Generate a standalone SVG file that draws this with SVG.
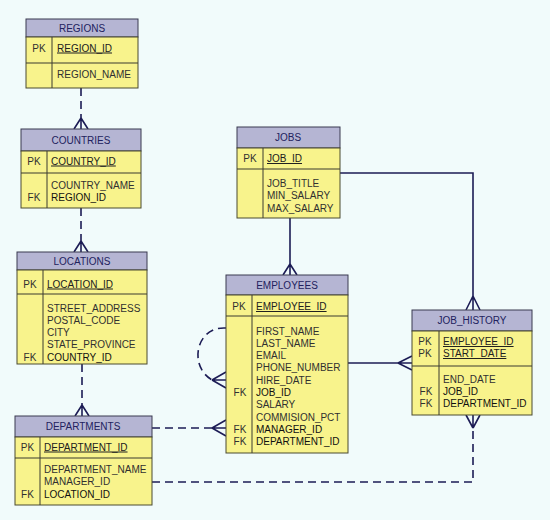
<svg xmlns="http://www.w3.org/2000/svg" width="550" height="520" viewBox="0 0 550 520">
<style>
.bg{fill:#f1fbfb}
.hd{fill:#b5b5d3;stroke:#3a3a50;stroke-width:1}
.bd{fill:#f8f38c;stroke:#4a4a30;stroke-width:1}
.sep{stroke:#3a3a30;stroke-width:1;fill:none}
text{font-family:"Liberation Sans",Arial,sans-serif;font-size:10px;fill:#303030}
.ht{fill:#22225e;text-anchor:middle}
.k{text-anchor:middle}
.pk{text-decoration:underline;fill:#202020}
.fk{fill:#101010}
.ln{stroke:#1c1c55;stroke-width:1.6;fill:none}
.dl{stroke:#1c1c55;stroke-width:1.6;fill:none;stroke-dasharray:8 5}
</style>
<rect class="bg" x="0" y="0" width="550" height="520"/>
<g id="connectors">
<path class="dl" d="M81,88 V118"/>
<path class="ln" d="M81,118 L74,129 M81,118 V129 M81,118 L88,129"/>
<path class="dl" d="M81,208 V241"/>
<path class="ln" d="M81,241 L74,252 M81,241 V252 M81,241 L88,252"/>
<path class="dl" d="M82,364 V405"/>
<path class="ln" d="M82,405 L75,416 M82,405 V416 M82,405 L89,416"/>
<path class="ln" d="M290,218 V264"/>
<path class="ln" d="M290,264 L283,275 M290,264 V275 M290,264 L297,275"/>
<path class="ln" d="M340,173 H473 V296"/>
<path class="ln" d="M473,296 L466,310 M473,296 V310 M473,296 L480,310"/>
<path class="ln" d="M348,363 H398"/>
<path class="ln" d="M398,363 L412,356 M398,363 H412 M398,363 L412,370"/>
<path class="dl" d="M226,328 C196,326 188,366 212,380"/>
<path class="ln" d="M212,380 L226,372 M212,380 H226 M212,380 L226,388"/>
<path class="dl" d="M152,428 H212"/>
<path class="ln" d="M212,428 L226,420 M212,428 H226 M212,428 L226,436"/>
<path class="dl" d="M152,482 H473 V428"/>
<path class="ln" d="M473,428 L466,415 M473,428 V415 M473,428 L480,415"/>
</g>
<g id="regions">
<rect class="hd" x="26" y="19" width="112" height="18"/>
<rect class="bd" x="26" y="37" width="112" height="51"/>
<path class="sep" d="M26,63 H138 M52,37 V88"/>
<text class="ht" x="82" y="32">REGIONS</text>
<text class="k" x="39" y="51.5">PK</text>
<text class="pk" x="57" y="51.5">REGION_ID</text>
<text x="57" y="78">REGION_NAME</text>
</g>
<g id="countries">
<rect class="hd" x="21" y="129" width="120" height="22"/>
<rect class="bd" x="21" y="151" width="120" height="57"/>
<path class="sep" d="M21,173 H141 M47,151 V208"/>
<text class="ht" x="81" y="144">COUNTRIES</text>
<text class="k" x="34" y="164.5">PK</text>
<text class="pk" x="51" y="164.5">COUNTRY_ID</text>
<text x="51" y="188.5">COUNTRY_NAME</text>
<text class="k" x="34" y="201">FK</text>
<text class="fk" x="51" y="201">REGION_ID</text>
</g>
<g id="locations">
<rect class="hd" x="17" y="252" width="130" height="18"/>
<rect class="bd" x="17" y="270" width="130" height="94"/>
<path class="sep" d="M17,294 H147 M43,270 V364"/>
<text class="ht" x="82" y="265">LOCATIONS</text>
<text class="k" x="30" y="287.5">PK</text>
<text class="pk" x="47" y="287.5">LOCATION_ID</text>
<text x="47" y="311.5">STREET_ADDRESS</text>
<text x="47" y="323.8">POSTAL_CODE</text>
<text x="47" y="336.1">CITY</text>
<text x="47" y="348.4">STATE_PROVINCE</text>
<text class="k" x="30" y="360.7">FK</text>
<text class="fk" x="47" y="360.7">COUNTRY_ID</text>
</g>
<g id="departments">
<rect class="hd" x="15" y="416" width="137" height="21"/>
<rect class="bd" x="15" y="437" width="137" height="68"/>
<path class="sep" d="M15,458 H152 M40,437 V505"/>
<text class="ht" x="83" y="430">DEPARTMENTS</text>
<text class="k" x="27.5" y="450.5">PK</text>
<text class="pk" x="44" y="450.5">DEPARTMENT_ID</text>
<text x="44" y="472.5">DEPARTMENT_NAME</text>
<text x="44" y="485">MANAGER_ID</text>
<text class="k" x="27.5" y="497.5">FK</text>
<text class="fk" x="44" y="497.5">LOCATION_ID</text>
</g>
<g id="jobs">
<rect class="hd" x="237" y="127" width="103" height="21"/>
<rect class="bd" x="237" y="148" width="103" height="70"/>
<path class="sep" d="M237,169 H340 M263,148 V218"/>
<text class="ht" x="288" y="141">JOBS</text>
<text class="k" x="250" y="162">PK</text>
<text class="pk" x="267" y="162">JOB_ID</text>
<text x="267" y="186.5">JOB_TITLE</text>
<text x="267" y="199">MIN_SALARY</text>
<text x="267" y="211.5">MAX_SALARY</text>
</g>
<g id="employees">
<rect class="hd" x="226" y="275" width="122" height="20"/>
<rect class="bd" x="226" y="295" width="122" height="158"/>
<path class="sep" d="M226,316 H348 M252,295 V453"/>
<text class="ht" x="287" y="288.5">EMPLOYEES</text>
<text class="k" x="239" y="310">PK</text>
<text class="pk" x="256" y="310">EMPLOYEE_ID</text>
<text x="256" y="334.5">FIRST_NAME</text>
<text x="256" y="346.8">LAST_NAME</text>
<text x="256" y="359.1">EMAIL</text>
<text x="256" y="371.4">PHONE_NUMBER</text>
<text x="256" y="383.7">HIRE_DATE</text>
<text class="k" x="240" y="396">FK</text>
<text class="fk" x="256" y="396">JOB_ID</text>
<text x="256" y="408.3">SALARY</text>
<text x="256" y="420.6">COMMISION_PCT</text>
<text class="k" x="240" y="432.9">FK</text>
<text class="fk" x="256" y="432.9">MANAGER_ID</text>
<text class="k" x="240" y="445.2">FK</text>
<text class="fk" x="256" y="445.2">DEPARTMENT_ID</text>
</g>
<g id="job_history">
<rect class="hd" x="412" y="310" width="120" height="21"/>
<rect class="bd" x="412" y="331" width="120" height="84"/>
<path class="sep" d="M412,366 H532 M439,331 V415"/>
<text class="ht" x="472" y="324">JOB_HISTORY</text>
<text class="k" x="425" y="345">PK</text>
<text class="pk" x="443" y="345">EMPLOYEE_ID</text>
<text class="k" x="425" y="357">PK</text>
<text class="pk" x="443" y="357">START_DATE</text>
<text x="443" y="382.5">END_DATE</text>
<text class="k" x="426" y="394.5">FK</text>
<text class="fk" x="443" y="394.5">JOB_ID</text>
<text class="k" x="426" y="407">FK</text>
<text class="fk" x="443" y="407">DEPARTMENT_ID</text>
</g>
</svg>
